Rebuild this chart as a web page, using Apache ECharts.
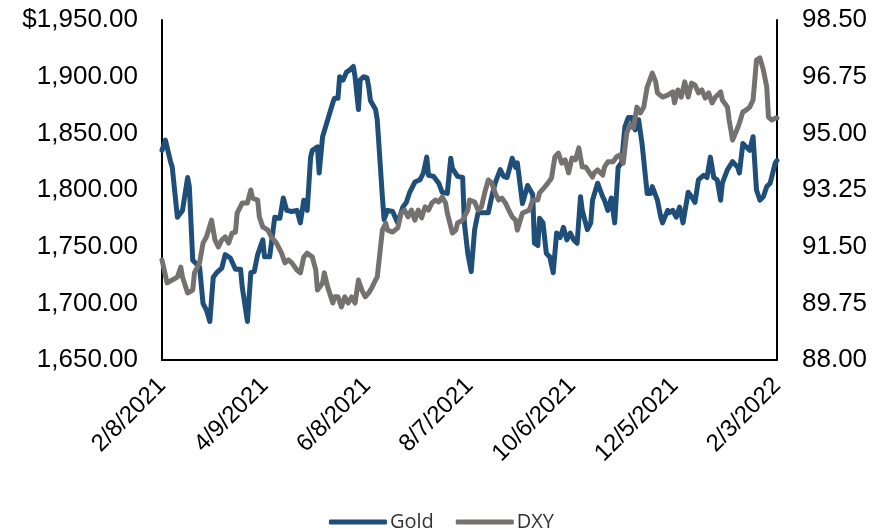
<!DOCTYPE html>
<html>
<head>
<meta charset="utf-8">
<script src="https://cdn.jsdelivr.net/npm/echarts@6/dist/echarts.min.js"></script>
<style>
  html, body { margin: 0; padding: 0; background: #fff; }
  #chart { width: 883px; height: 529px; }
</style>
</head>
<body>
<div id="chart"></div>
<script>
// Gold spot price (USD/oz) and US Dollar Index, 2/8/2021 – 2/3/2022.
// Positions on the time axis are days counted from the start date.
const startDate = Date.UTC(2021, 1, 8);
const totalDays = 360;
const tickStepDays = 60;

const goldDays = [0, 2, 5, 6, 9, 12, 15, 16, 18, 22, 24, 26, 28, 30, 32, 35, 37, 40, 43, 46, 47, 50, 52, 54, 56, 59, 60, 63, 66, 69, 71, 73, 76, 79, 81, 83, 85, 87, 88, 91, 92, 94, 97, 100, 101, 103, 104, 106, 108, 110, 112, 113, 115, 116, 118, 120, 121, 122, 125, 126, 129, 130, 132, 135, 136, 138, 141, 143, 145, 148, 151, 153, 155, 156, 159, 162, 164, 167, 169, 170, 173, 176, 177, 179, 181, 183, 185, 188, 191, 193, 195, 198, 200, 202, 205, 207, 208, 211, 212, 214, 217, 218, 220, 221, 223, 225, 227, 229, 231, 233, 235, 237, 239, 241, 243, 245, 246, 249, 251, 252, 255, 258, 259, 261, 263, 265, 267, 269, 271, 273, 275, 277, 279, 281, 284, 286, 287, 290, 292, 293, 296, 297, 299, 301, 303, 305, 308, 310, 312, 314, 317, 319, 321, 323, 325, 327, 328, 331, 334, 337, 338, 340, 342, 344, 346, 348, 350, 352, 354, 356, 359, 360];
const goldPrices = [1835, 1844, 1825, 1820, 1776, 1782, 1811, 1803, 1738, 1732, 1700, 1694, 1684, 1723, 1727, 1731, 1743, 1740, 1730, 1730, 1714, 1684, 1727, 1728, 1743, 1756, 1741, 1741, 1776, 1775, 1793, 1782, 1781, 1782, 1771, 1791, 1782, 1829, 1835, 1838, 1815, 1847, 1862, 1877, 1881, 1881, 1900, 1897, 1904, 1906, 1909, 1900, 1871, 1897, 1900, 1899, 1891, 1879, 1871, 1862, 1794, 1774, 1782, 1781, 1780, 1771, 1785, 1789, 1798, 1807, 1809, 1815, 1829, 1813, 1812, 1806, 1798, 1797, 1828, 1819, 1812, 1811, 1771, 1744, 1728, 1765, 1780, 1780, 1780, 1794, 1806, 1818, 1812, 1811, 1828, 1820, 1824, 1788, 1788, 1804, 1796, 1753, 1751, 1775, 1771, 1744, 1741, 1727, 1762, 1758, 1767, 1756, 1762, 1756, 1753, 1794, 1782, 1765, 1771, 1791, 1806, 1794, 1791, 1782, 1793, 1771, 1820, 1824, 1856, 1864, 1864, 1853, 1862, 1841, 1797, 1797, 1803, 1791, 1776, 1771, 1782, 1780, 1782, 1776, 1785, 1771, 1798, 1794, 1789, 1809, 1813, 1811, 1829, 1811, 1809, 1791, 1806, 1818, 1825, 1820, 1815, 1841, 1838, 1835, 1847, 1800, 1791, 1794, 1803, 1806, 1824, 1826];

const dxyDays = [0, 3, 6, 9, 11, 12, 15, 18, 19, 22, 24, 26, 29, 31, 33, 35, 37, 39, 41, 43, 44, 47, 50, 52, 53, 56, 57, 59, 62, 64, 67, 70, 72, 74, 76, 79, 81, 83, 85, 88, 90, 91, 94, 95, 97, 100, 101, 103, 105, 107, 109, 111, 113, 115, 117, 119, 121, 123, 125, 126, 129, 131, 132, 135, 138, 140, 142, 144, 146, 148, 150, 152, 154, 156, 158, 160, 162, 164, 166, 167, 170, 172, 173, 176, 179, 180, 183, 185, 187, 189, 191, 193, 195, 197, 199, 201, 203, 205, 207, 208, 211, 212, 215, 217, 220, 221, 224, 226, 228, 230, 232, 234, 236, 238, 240, 242, 244, 246, 248, 249, 252, 253, 255, 258, 259, 261, 262, 264, 266, 268, 270, 272, 274, 276, 278, 280, 282, 284, 287, 289, 290, 293, 294, 296, 299, 300, 302, 304, 306, 308, 310, 312, 314, 316, 318, 320, 322, 324, 327, 328, 331, 332, 334, 337, 338, 340, 342, 344, 346, 348, 350, 352, 354, 355, 357, 359, 360];
const dxyValues = [91.09, 90.38, 90.47, 90.56, 90.87, 90.56, 90.07, 90.16, 90.69, 91.00, 91.61, 91.80, 92.32, 91.71, 91.49, 91.71, 91.80, 91.61, 91.92, 91.95, 92.54, 92.85, 92.85, 93.25, 93.00, 92.94, 92.42, 92.11, 92.01, 91.80, 91.61, 91.30, 91.00, 91.09, 91.00, 90.78, 90.69, 91.18, 91.30, 91.18, 90.78, 90.16, 90.38, 90.69, 90.25, 89.76, 89.95, 89.95, 89.64, 89.95, 89.76, 89.95, 89.76, 90.47, 90.16, 89.95, 90.07, 90.25, 90.47, 90.56, 92.01, 92.23, 92.01, 91.95, 92.08, 92.54, 92.63, 92.42, 92.63, 92.32, 92.63, 92.39, 92.73, 92.63, 92.85, 92.94, 92.88, 93.03, 92.85, 92.54, 91.92, 92.01, 92.23, 92.32, 92.63, 92.94, 92.88, 92.63, 92.73, 93.19, 93.56, 93.47, 93.16, 92.94, 93.00, 92.85, 92.63, 92.42, 92.32, 92.01, 92.54, 92.57, 92.63, 92.94, 92.94, 93.16, 93.34, 93.47, 93.62, 94.27, 94.39, 94.08, 94.18, 93.78, 94.24, 94.18, 94.55, 93.96, 93.96, 94.02, 93.65, 93.78, 93.87, 93.71, 93.96, 94.12, 94.08, 94.12, 94.27, 94.33, 94.08, 95.01, 95.26, 95.17, 95.81, 95.63, 95.81, 96.43, 96.86, 96.59, 96.25, 96.12, 96.09, 96.18, 96.28, 95.94, 96.34, 96.12, 96.59, 96.12, 96.55, 96.49, 96.25, 96.34, 96.09, 96.25, 95.94, 96.12, 96.28, 96.03, 95.81, 95.41, 94.79, 95.17, 95.32, 95.66, 95.72, 95.81, 96.03, 97.26, 97.33, 96.96, 96.43, 95.50, 95.41, 95.47, 95.47];

const goldAxis = { min: 1650, max: 1950, interval: 50 };
const dxyAxis = { min: 88, max: 98.5 };

function pairs(xs, ys) {
  return xs.map((x, i) => [x, ys[i]]);
}

function dayLabel(d) {
  const dt = new Date(startDate + d * 86400000);
  return (dt.getUTCMonth() + 1) + '/' + dt.getUTCDate() + '/' + dt.getUTCFullYear();
}

function money(v) {
  const s = v.toLocaleString('en-US', { minimumFractionDigits: 2, maximumFractionDigits: 2 });
  return v === goldAxis.max ? '$' + s : s;
}

const axisFont = { fontFamily: 'Liberation Sans, Arial, sans-serif', color: '#000' };
const blackLine = { show: true, lineStyle: { color: '#000', width: 2 } };

const chart = echarts.init(document.getElementById('chart'), null, { renderer: 'canvas' });
chart.setOption({
  animation: false,
  backgroundColor: '#fff',
  grid: { left: 162, right: 106, top: 20, bottom: 169, containLabel: false },
  legend: {
    top: 507,
    left: 'center',
    itemWidth: 58,
    itemHeight: 5,
    itemGap: 22,
    icon: 'roundRect',
    textStyle: { fontFamily: 'Open Sans, sans-serif', fontSize: 20, color: '#333', padding: [0, 0, 0, -2] },
    data: ['Gold', 'DXY']
  },
  xAxis: {
    type: 'value',
    min: 0,
    max: totalDays,
    interval: tickStepDays,
    axisLine: blackLine,
    axisTick: { show: false },
    splitLine: { show: false },
    axisLabel: Object.assign({ fontSize: 24, rotate: 45, margin: 22, formatter: dayLabel }, axisFont)
  },
  yAxis: [
    {
      type: 'value',
      position: 'left',
      min: goldAxis.min,
      max: goldAxis.max,
      interval: goldAxis.interval,
      axisLine: blackLine,
      axisTick: { show: false },
      splitLine: { show: false },
      axisLabel: Object.assign({ fontSize: 26, margin: 24, formatter: money }, axisFont)
    },
    {
      type: 'value',
      position: 'right',
      min: dxyAxis.min,
      max: dxyAxis.max,
      alignTicks: true,
      axisLine: blackLine,
      axisTick: { show: false },
      splitLine: { show: false },
      axisLabel: Object.assign({ fontSize: 26, margin: 25, formatter: v => v.toFixed(2) }, axisFont)
    }
  ],
  series: [
    {
      name: 'Gold',
      type: 'line',
      yAxisIndex: 0,
      data: pairs(goldDays, goldPrices),
      showSymbol: false,
      itemStyle: { color: '#1F4E79' },
      lineStyle: { color: '#1F4E79', width: 5, cap: 'round', join: 'round' }
    },
    {
      name: 'DXY',
      type: 'line',
      yAxisIndex: 1,
      data: pairs(dxyDays, dxyValues),
      showSymbol: false,
      itemStyle: { color: '#767171' },
      lineStyle: { color: '#767171', width: 5, cap: 'round', join: 'round' }
    }
  ]
});
</script>
</body>
</html>
